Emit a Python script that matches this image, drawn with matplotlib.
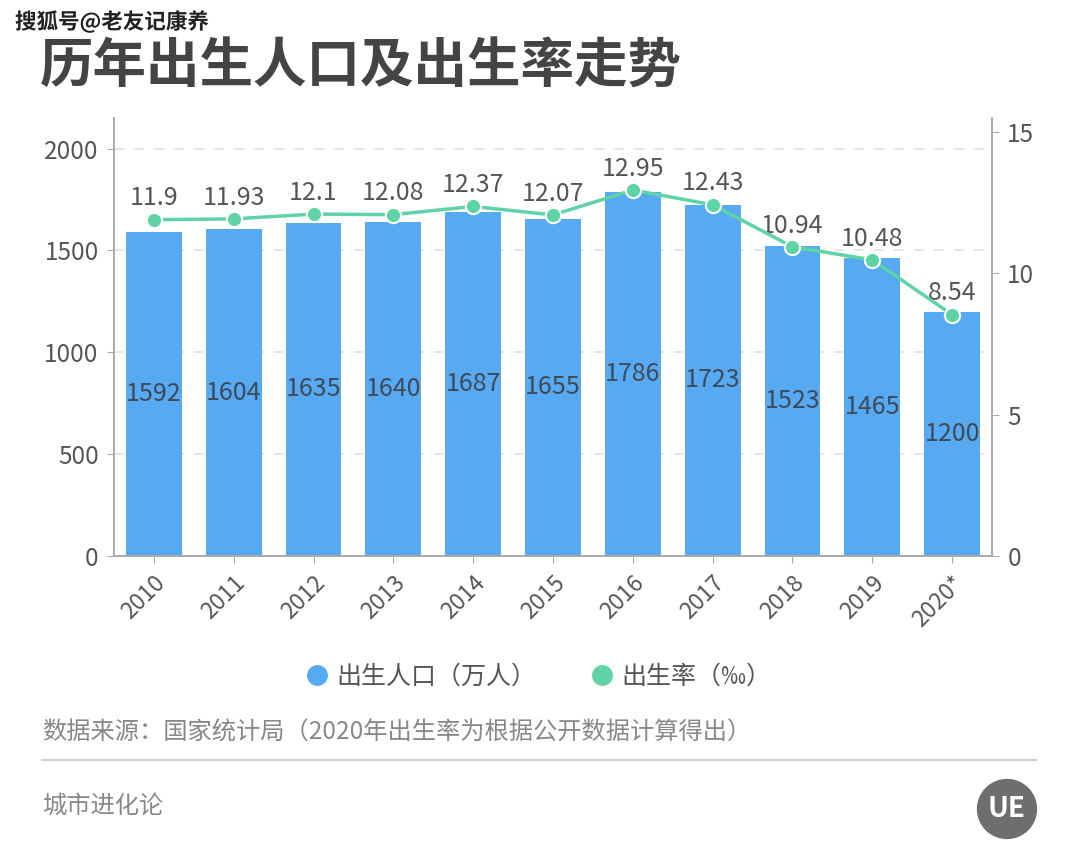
import matplotlib.pyplot as plt
import matplotlib.patheffects as pe
from matplotlib.patches import Circle
from matplotlib.lines import Line2D

plt.rcParams['font.family'] = ['Noto Sans CJK SC', 'DejaVu Sans']

# 数据
years = ['2010', '2011', '2012', '2013', '2014', '2015', '2016', '2017', '2018', '2019', '2020*']
births = [1592, 1604, 1635, 1640, 1687, 1655, 1786, 1723, 1523, 1465, 1200]
rates = [11.9, 11.93, 12.1, 12.08, 12.37, 12.07, 12.95, 12.43, 10.94, 10.48, 8.54]
rate_labels = ['11.9', '11.93', '12.1', '12.08', '12.37', '12.07', '12.95', '12.43', '10.94', '10.48', '8.54']

bar_color = '#57A9F1'
line_color = '#5DD3A6'
text_color = '#555555'
axis_color = '#AAAAAA'

fig = plt.figure(figsize=(10.8, 8.64), dpi=100)
ax = fig.add_axes([114/1080, 1-556/864, (992-114)/1080, (556-118)/864])
ax2 = ax.twinx()

x = list(range(len(years)))
ax.bar(x, births, width=0.7, color=bar_color, zorder=2)
for xi, v in zip(x, births):
    ax.text(xi, v/2, str(v), ha='center', va='center', fontsize=18, color='#3d4a5a', zorder=3)

ax.set_xlim(-0.5, 10.5)
ax.set_ylim(0, 2150)
ax.set_yticks([0, 500, 1000, 1500, 2000])
ax.set_xticks(x)
ax.set_xticklabels(years, rotation=45, ha='right', rotation_mode='anchor')
ax.tick_params(axis='x', length=5, color=axis_color, labelsize=16.5, labelcolor=text_color, pad=6)
ax.tick_params(axis='y', length=5, color=axis_color, labelsize=17.5, labelcolor=text_color, pad=6)
for yv in [500, 1000, 1500, 2000]:
    ax.axhline(yv, color='#E3E3E3', lw=1.2, ls=(0, (6, 6)), zorder=1)

ax2.plot(x, rates, color=line_color, lw=2.5, marker='o', markersize=11,
         markerfacecolor=line_color, markeredgecolor='white', markeredgewidth=1.5, zorder=4)
for xi, r, lab in zip(x, rates, rate_labels):
    ax2.annotate(lab, (xi, r), xytext=(0, 6), textcoords='offset points',
                 ha='center', va='bottom', fontsize=18, color=text_color)
ax2.set_ylim(0, 15.5)
ax2.set_yticks([0, 5, 10, 15])
ax2.tick_params(axis='y', length=5, color=axis_color, labelsize=17.5, labelcolor=text_color, pad=6)

for a in (ax, ax2):
    a.spines['top'].set_visible(False)
    for s in ['left', 'right', 'bottom']:
        a.spines[s].set_color(axis_color)
        a.spines[s].set_linewidth(1.2)

# 标题与水印
fig.text(15/1080, 1-22/864, '搜狐号@老友记康养', fontsize=15.5, fontweight='bold', color='#222222',
         va='center', ha='left', path_effects=[pe.withStroke(linewidth=3, foreground='white')])
fig.text(40/1080, 1-67/864, '历年出生人口及出生率走势', fontsize=38.5, fontweight='bold',
         color='#444444', va='center', ha='left')

# 图例
handles = [Line2D([], [], marker='o', ls='none', markersize=14, color=bar_color),
           Line2D([], [], marker='o', ls='none', markersize=14, color=line_color)]
fig.legend(handles, ['出生人口（万人）', '出生率（‰）'], loc='center', bbox_to_anchor=(0.497, 1-677/864),
           ncol=2, frameon=False, fontsize=18, labelcolor=text_color, handletextpad=0.2,
           columnspacing=2.0, handlelength=1.2)

fig.text(42/1080, 1-733/864, '数据来源：国家统计局（2020年出生率为根据公开数据计算得出）',
         fontsize=17.5, color='#888888', va='center', ha='left')
fig.add_artist(Line2D([42/1080, 1036/1080], [1-760/864, 1-760/864], color='#CCCCCC', lw=1.5))
fig.text(42/1080, 1-806/864, '城市进化论', fontsize=17.5, color='#888888', va='center', ha='left')

# 角标
logo_ax = fig.add_axes([976/1080, 1-840/864, 62/1080, 62/864])
logo_ax.set_xlim(-1, 1)
logo_ax.set_ylim(-1, 1)
logo_ax.set_aspect('equal')
logo_ax.axis('off')
logo_ax.add_patch(Circle((0, 0), 0.95, color='#6E6E6E'))
logo_ax.text(0, 0, 'UE', color='white', fontsize=20, fontweight='bold', ha='center', va='center')

fig.savefig('out.png', dpi=100, facecolor='white')
